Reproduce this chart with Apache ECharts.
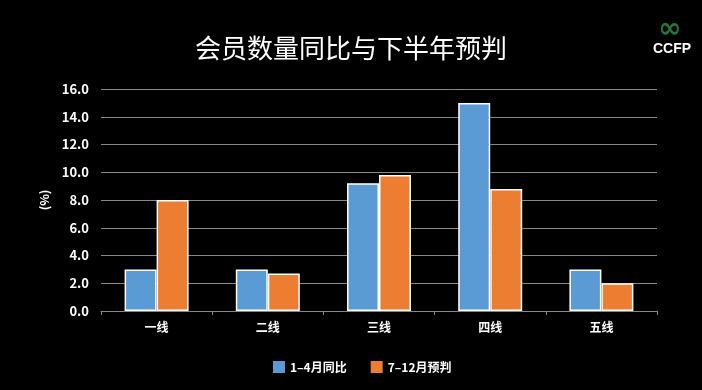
<!DOCTYPE html>
<html><head><meta charset="utf-8">
<script src="https://cdn.jsdelivr.net/npm/echarts@6/dist/echarts.min.js"></script>
<style>html,body{margin:0;padding:0;background:#000;}#c{width:702px;height:390px;}</style>
</head><body><div id="c"></div>
<script>
const categories = ['一线','二线','三线','四线','五线'];
const seriesNames = ['1–4月同比','7–12月预判'];
const yoy = [3.0, 3.0, 9.2, 15.0, 3.0];
const forecast = [8.0, 2.7, 9.8, 8.8, 2.0];
const chart = echarts.init(document.getElementById('c'));
const font = '"Noto Sans CJK SC","Noto Sans",sans-serif';
chart.setOption({
  backgroundColor: '#000',
  animation: false,
  title: {text: '会员数量同比与下半年预判', left: 'center', top: 30,
    textStyle: {color: '#fff', fontSize: 26, fontWeight: 'normal', fontFamily: font}},
  legend: {bottom: 12, left: 268, itemWidth: 12, itemHeight: 12, itemGap: 24, icon: 'rect',
    itemStyle: {borderWidth: 0},
    textStyle: {color: '#fff', fontSize: 12, fontWeight: 'bold', fontFamily: font},
    data: seriesNames},
  grid: {left: 101, right: 45, top: 89, bottom: 79},
  xAxis: {type: 'category', data: categories,
    axisLine: {lineStyle: {color: '#888'}},
    axisTick: {show: true, length: 4, lineStyle: {color: '#888'}},
    axisLabel: {color: '#fff', fontSize: 12, fontWeight: 'bold', fontFamily: font, margin: 10}},
  yAxis: {type: 'value', min: 0, max: 16, interval: 2,
    name: '(%)', nameLocation: 'middle', nameGap: 50, nameRotate: 90,
    nameTextStyle: {color: '#fff', fontSize: 12, fontWeight: 'bold', fontFamily: font},
    axisLine: {show: false}, axisTick: {show: false},
    splitLine: {lineStyle: {color: '#888', width: 1}},
    axisLabel: {color: '#fff', fontSize: 13, fontWeight: 'bold', fontFamily: font, margin: 12,
      formatter: v => v.toFixed(1)}},
  series: [
    {name: seriesNames[0], type: 'bar', data: yoy, barWidth: 32, barGap: '0%',
      itemStyle: {color: '#5b9bd5', borderColor: '#fff', borderWidth: 1.5}},
    {name: seriesNames[1], type: 'bar', data: forecast, barWidth: 32,
      itemStyle: {color: '#ed7d31', borderColor: '#fff', borderWidth: 1.5}}
  ],
  graphic: [
    {type: 'text', left: 653, top: 42, style: {text: 'CCFP', fill: '#fff', fontSize: 14, fontWeight: 'bold', fontFamily: 'Arial'}},
    {type: 'text', left: 658, top: 16, style: {text: '∞', fill: '#1f7a3a', fontSize: 28, fontWeight: 'bold', fontFamily: 'DejaVu Sans'}}
  ]
});
</script></body></html>
